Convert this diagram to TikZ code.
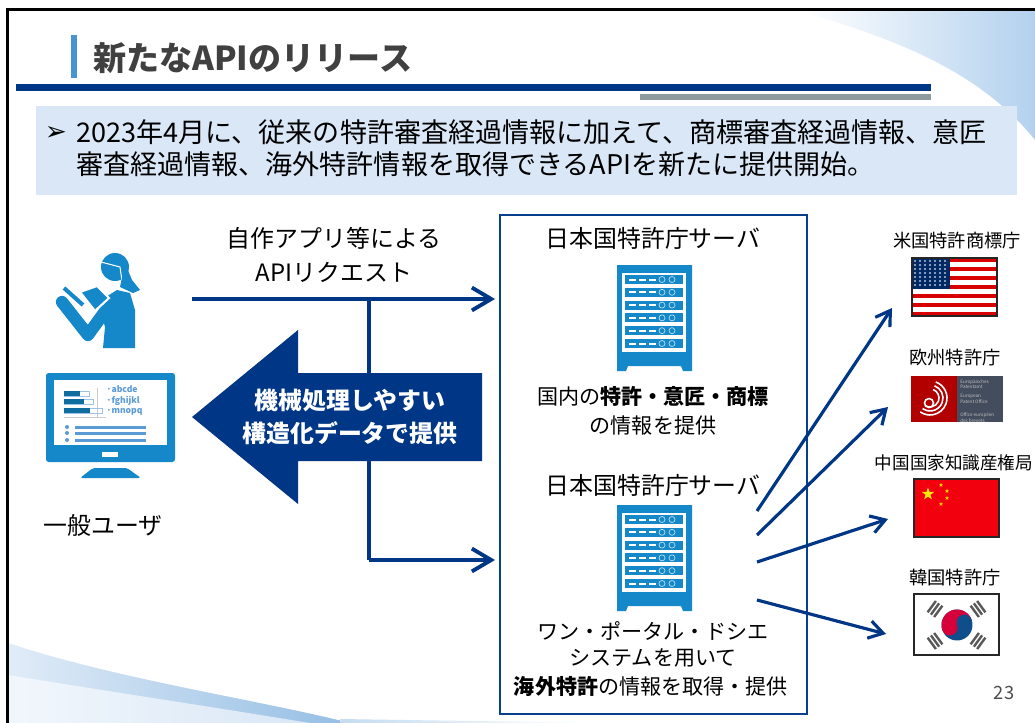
\documentclass[tikz,border=0pt]{standalone}
\usepackage{fontspec}
\setmainfont{Noto Sans CJK JP}
\newfontfamily\symfont{DejaVu Sans}
\usetikzlibrary{arrows.meta, shapes.geometric}

\definecolor{navy}{HTML}{003686}
\definecolor{iconblue}{HTML}{1488C8}
\definecolor{boxblue}{HTML}{D9E7F6}
\definecolor{softblue}{HTML}{5B9BD5}
\definecolor{skyblue}{HTML}{B3D1EE}
\definecolor{bargray}{HTML}{8E9A9E}
\definecolor{epslate}{HTML}{444D5E}
\definecolor{krred}{HTML}{D6003A}
\definecolor{krblue}{HTML}{104E8B}

\tikzset{
  apiline/.style={navy, line width=2.2pt, -{Straight Barb[length=11pt, width=13pt, line width=2.2pt]}},
  flagline/.style={navy, line width=1.8pt, -{Straight Barb[length=8pt, width=10pt, line width=1.8pt]}},
  plainline/.style={navy, line width=2.2pt},
  bigtext/.style={font=\fontsize{15.4}{18}\selectfont, inner sep=0pt},
  midtext/.style={font=\fontsize{13.6}{16}\selectfont, inner sep=0pt},
  whitetext/.style={font=\bfseries\fontsize{13.6}{16}\selectfont, text=white, inner sep=0pt},
  smalltext/.style={font=\fontsize{12}{14}\selectfont, inner sep=0pt},
  flagtext/.style={font=\fontsize{10.4}{12}\selectfont, inner sep=0pt},
  screentext/.style={font=\bfseries\fontsize{4.9}{6}\selectfont, text=softblue, inner sep=0pt, anchor=west},
  tinytext/.style={font=\fontsize{2.6}{3}\selectfont, text=white!75!black, inner sep=0pt, anchor=west},
  flagedge/.style={draw=black!85, line width=0.6pt},
}

\begin{document}
\begin{tikzpicture}[x=0.02cm, y=-0.02cm]
\useasboundingbox (0,0) rectangle (1035,723);
\fill[white] (0,0) rectangle (1035,723);

\shade[left color=white, middle color=skyblue!70, right color=skyblue] (800,11) .. controls (880,35) and (975,65) .. (1035,140) -- (1035,11) -- cycle;
\shade[left color=boxblue!80, right color=softblue!65] (8,643) .. controls (120,680) and (260,700) .. (350,723) -- (8,723) -- cycle;
\shade[left color=boxblue!35, right color=boxblue] (8,675) .. controls (100,690) and (200,705) .. (310,723) -- (8,723) -- cycle;
\shade[left color=softblue!35, right color=white] (340,719) .. controls (400,720) and (480,721) .. (600,723) -- (340,723) -- cycle;

\draw[black, line width=1.5pt] (7.3,723) -- (7.3,9.7) -- (1035,9.7);

\fill[softblue!70!iconblue] (71,35) rectangle (77,78);
\node[font=\bfseries\fontsize{18.8}{22}\selectfont, text=black!75, inner sep=0pt, anchor=west] (title) at (93,58) {新たなAPIのリリース};
\fill[navy] (16,84) rectangle (931,91);
\fill[bargray] (640,94) rectangle (931,100);

\fill[boxblue] (36,106) rectangle (1017,195);
\node[font=\symfont\fontsize{15}{17}\selectfont, inner sep=0pt] (mark) at (56,133) {➢};
\node[bigtext, anchor=west] (lineA) at (76,132) {2023年4月に、従来の特許審査経過情報に加えて、商標審査経過情報、意匠};
\node[bigtext, anchor=west] (lineB) at (76,164) {審査経過情報、海外特許情報を取得できるAPIを新たに提供開始。};

% user
\fill[iconblue] (115,267) circle (14);
\draw[white, line width=0.6pt] (101,262) -- (120,267) -- (122,281);
\fill[iconblue] (125,263) -- (132,280) -- (140,290) -- (133,293) -- (120,287) -- cycle;
\fill[iconblue] (98,302) -- (117,290) -- (130,293) -- (135,310) -- (135,348) -- (103,348) -- (105,327) -- cycle;
\draw[iconblue, line width=7pt, line join=round, line cap=round] (62,302) -- (88,335) -- (106,310);
\draw[white, line width=1.2pt, fill=iconblue] (80,292) -- (97,286) -- (109,298) -- (95,311) -- cycle;
\draw[iconblue, line width=2.3pt] (64,288) -- (83,305);

\fill[iconblue, rounded corners=1.5pt] (46,373) rectangle (175,462);
\fill[white] (54,380) rectangle (167,445);
\fill[white] (102,452) rectangle (118,457);
\fill[iconblue, rounded corners=1pt] (80,478) -- (93,468) -- (127,468) -- (141,478) -- cycle;
\draw[black!20] (97,388) -- (97,417);
\draw[black!20] (64,417) -- (106,417);
\draw[softblue!60, line width=0.5pt] (64,391) rectangle (89,396);
\fill[iconblue!80!black] (64,391) rectangle (80,396);
\draw[softblue!60, line width=0.5pt] (64,399) rectangle (93,404);
\fill[iconblue!80!black] (64,399) rectangle (84,404);
\draw[softblue!60, line width=0.5pt] (64,408) rectangle (102,413);
\fill[iconblue!80!black] (64,408) rectangle (90,413);
\node[screentext] (abc) at (106,389) {·abcde};
\node[screentext] (fgh) at (106,401) {·fghijkl};
\node[screentext] (mno) at (106,412) {·mnopq};
\foreach \ly in {427,433,440} {
  \fill[softblue] (67,\ly) circle (2);
  \fill[softblue] (75,\ly-1.5) rectangle (146,\ly+1.5);
}
\node[midtext] (user) at (103,525) {一般ユーザ};

% requests
\node[midtext] (reqA) at (334,238) {自作アプリ等による};
\node[midtext] (reqB) at (334,272) {APIリクエスト};
\coordinate (from) at (192,299);
\coordinate (fork) at (369,299);
\coordinate (bend) at (369,560);
\coordinate (jpA) at (495,299);
\coordinate (jpB) at (495,560);
\draw[apiline] (from) -- (jpA);
\draw[plainline] (fork) -- (bend);
\draw[apiline] (bend) -- (jpB);

\fill[navy] (192,417) -- (298,330) -- (298,373) -- (482,373) -- (482,461) -- (298,461) -- (298,504) -- cycle;
\node[whitetext] (procA) at (350,401) {機械処理しやすい};
\node[whitetext] (procB) at (350,433) {構造化データで提供};

% servers
\node[draw=navy!90!softblue, line width=1.1pt, minimum width=6.14cm, minimum height=9.98cm, inner sep=0pt] (jpo) at (653.5,464.5) {};
\node[midtext] (jpoA) at (653,238) {日本国特許庁サーバ};
\node[smalltext] (infoA) at (653,396) {国内の\textbf{特許・意匠・商標}};
\node[smalltext] (infoB) at (653,426) {の情報を提供};
\node[midtext] (jpoB) at (653,485) {日本国特許庁サーバ};
\node[smalltext] (infoC) at (653,631) {ワン・ポータル・ドシエ};
\node[smalltext] (infoD) at (653,658) {システムを用いて};
\node[smalltext] (infoE) at (651,686) {\textbf{海外特許}の情報を取得・提供};

\foreach \ry in {265,505} {
  \begin{scope}[shift={(617,\ry)}]
    \fill[iconblue] (0,0) -- (75,0) -- (75,106) -- (66,106) -- (64,101) -- (11,101) -- (9,106) -- (0,106) -- cycle;
    \fill[white] (5,8) rectangle (69,87);
    \foreach \i in {0,...,5} {
      \fill[iconblue] (8,10+12.8*\i) rectangle (66,19+12.8*\i);
      \foreach \d in {12,22,32} {
        \fill[white] (\d,13.5+12.8*\i) rectangle (\d+7,15.5+12.8*\i);
      }
      \foreach \d in {45,55} {
        \draw[white!70!iconblue, line width=0.4pt] (\d,14.5+12.8*\i) circle (3);
      }
    }
  \end{scope}
}

% foreign offices
\coordinate (out) at (757,511);
\coordinate (outB) at (757,535);
\coordinate (outC) at (757,562);
\coordinate (outD) at (757,600);
\coordinate (us) at (892,308);
\coordinate (ep) at (888,407);
\coordinate (cn) at (888,519);
\coordinate (kr) at (886,634);
\draw[flagline] (out) -- (us);
\draw[flagline] (outB) -- (ep);
\draw[flagline] (outC) -- (cn);
\draw[flagline] (outD) -- (kr);

\node[flagtext] (usname) at (957,241) {米国特許商標庁};
\fill[white] (912,258) rectangle (997,316);
\foreach \i in {0,2,...,12} {
  \fill[red!85!black] (912,258+4.46*\i) rectangle (997,262.46+4.46*\i);
}
\fill[navy!75!black] (912,258) rectangle (950,289);
\foreach \sx in {915,920,...,947} {
  \foreach \sy in {261,265,...,287} {
    \fill[white!70!navy] (\sx,\sy) circle (1.2);
  }
}
\draw[flagedge] (912,258) rectangle (997,316);

\node[flagtext] (epname) at (955,358) {欧州特許庁};
\fill[red!70!black] (911,376) rectangle (957,422);
\fill[epslate] (957,376) rectangle (1003,422);
\draw[white, line width=0.9pt] (929,403) circle (4.5);
\foreach \r in {9,13,17} {
  \draw[white, line width=0.9pt] (930,398) ++(-70:\r) arc[start angle=-70, end angle=125, radius=\r];
}
\node[tinytext] (epA) at (960,382) {Europäisches};
\node[tinytext] (epB) at (960,387) {Patentamt};
\node[tinytext] (epC) at (960,396) {European};
\node[tinytext] (epD) at (960,402) {Patent Office};
\node[tinytext] (epE) at (960,415) {Office européen};
\node[tinytext] (epF) at (960,421) {des brevets};

\node[font=\fontsize{10}{12}\selectfont, inner sep=0pt] (cnname) at (954,463) {中国国家知識産権局};
\fill[red!95!blue] (914,479) rectangle (999,537);
\node[star, star points=5, star point ratio=2.5, fill=yellow!90!orange, minimum size=7.5pt, inner sep=0pt] (bigstar) at (928,494) {};
\foreach \sx/\sy [count=\i] in {941/485,947/491,947/498,941/504} {
  \node[star, star points=5, star point ratio=2.5, fill=yellow!70!orange, minimum size=2.6pt, inner sep=0pt] (smallstar\i) at (\sx,\sy) {};
}
\draw[flagedge] (914,479) rectangle (999,537);

\node[flagtext] (krname) at (955,578) {韓国特許庁};
\fill[white] (914,594) rectangle (999,655);
\begin{scope}[shift={(957,625)}, rotate=20]
  \fill[krblue] (0,0) circle (15.5);
  \begin{scope}
    \clip (-17,-17) rectangle (17,0);
    \fill[krred] (0,0) circle (15.5);
  \end{scope}
  \fill[krred] (-7.75,0) circle (7.75);
  \fill[krblue] (7.75,0) circle (7.75);
\end{scope}
\foreach \tx/\ty/\ta in {935/609/54,978/609/-54,935/641/-54,978/641/54} {
  \begin{scope}[shift={(\tx,\ty)}, rotate=\ta]
    \foreach \b in {-4,0,4} {
      \fill[black!65] (-7,\b-1.2) rectangle (7,\b+1.2);
    }
  \end{scope}
}
\draw[flagedge] (914,594) rectangle (999,655);

\node[font=\fontsize{10.4}{12}\selectfont, text=black!70, inner sep=0pt] (page) at (1004,693) {23};
\end{tikzpicture}
\end{document}
